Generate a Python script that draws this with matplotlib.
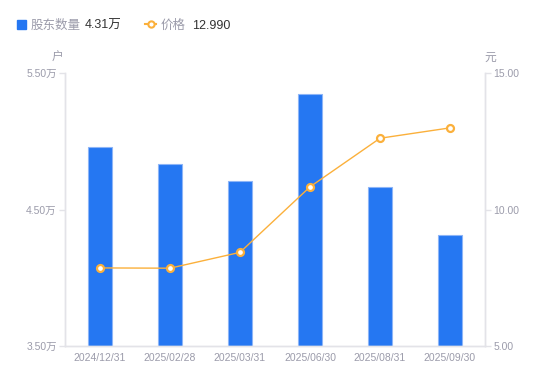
import matplotlib
matplotlib.use("Agg")
import matplotlib.pyplot as plt
from matplotlib.lines import Line2D
from matplotlib.patches import Rectangle

plt.rcParams['font.family'] = ['Liberation Sans', 'Noto Sans CJK SC', 'DejaVu Sans']

# data
dates = ['2024/12/31', '2025/02/28', '2025/03/31', '2025/06/30', '2025/08/31', '2025/09/30']
holders = [4.96, 4.83, 4.71, 5.345, 4.665, 4.31]   # 万户
price = [7.86, 7.85, 8.43, 10.83, 12.61, 12.99]     # 元
left_ticks = [3.5, 4.5, 5.5]
right_ticks = [5, 10, 15]

blue = '#2577F2'
orange = '#FBB03B'
grey = '#9B9BAA'
axis_grey = '#E3E3E8'

W, H = 550, 381
fig = plt.figure(figsize=(W / 100, H / 100), dpi=100)
ax = fig.add_axes([65 / W, (H - 346) / H, 420 / W, 273 / H])
ax2 = ax.twinx()

x = list(range(len(dates)))
ax.bar(x, holders, width=0.35, color=blue, edgecolor='#8DB5F7', linewidth=0.8, zorder=2)
ax.set_ylim(3.5, 5.5)
ax.set_xlim(-0.5, len(dates) - 0.5)
ax.set_yticks(left_ticks)
ax.set_yticklabels([f'{v:.2f}万' for v in left_ticks])
ax.set_xticks(x)
ax.set_xticklabels(dates)

ax2.plot(x, price, color=orange, linewidth=1, marker='o', markersize=5,
         markerfacecolor='white', markeredgecolor=orange, markeredgewidth=1.6, zorder=3)
ax2.set_ylim(5, 15)
ax2.set_yticks(right_ticks)
ax2.set_yticklabels([f'{v:.2f}' for v in right_ticks])

for a in (ax, ax2):
    for s in a.spines.values():
        s.set_color(axis_grey)
        s.set_linewidth(1)
    a.spines['top'].set_visible(False)
    a.tick_params(colors=grey, labelsize=7.5, length=4, width=1, color=axis_grey, pad=2)
ax.tick_params(axis='x', length=0, pad=5)

# unit labels
fig.text(58 / W, 1 - 58 / H, '户', color=grey, fontsize=8.5, ha='center', va='center')
fig.text(490 / W, 1 - 58 / H, '元', color=grey, fontsize=8.5, ha='center', va='center')

# legend row
ly = 1 - 24 / H
ty = 1 - 26 / H
fig.patches.append(Rectangle((17 / W, ly - 4.5 / H), 9 / W, 9 / H, transform=fig.transFigure,
                             color=blue, figure=fig))
fig.text(31 / W, ty, '股东数量', color=grey, fontsize=9, va='center')
fig.text(85 / W, ty, '4.31万', color='#333333', fontsize=9, va='center')
fig.lines.append(Line2D([145 / W, 156 / W], [ly, ly], transform=fig.transFigure,
                        color=orange, linewidth=1.5))
fig.lines.append(Line2D([150.5 / W], [ly], transform=fig.transFigure, color=orange, marker='o',
                        markersize=4.5, markerfacecolor='white', markeredgewidth=1.5, linestyle='none'))
fig.text(161 / W, ty, '价格', color=grey, fontsize=9, va='center')
fig.text(192 / W, ty, '12.990', color='#333333', fontsize=9, va='center')

fig.savefig('out.png', dpi=100)
